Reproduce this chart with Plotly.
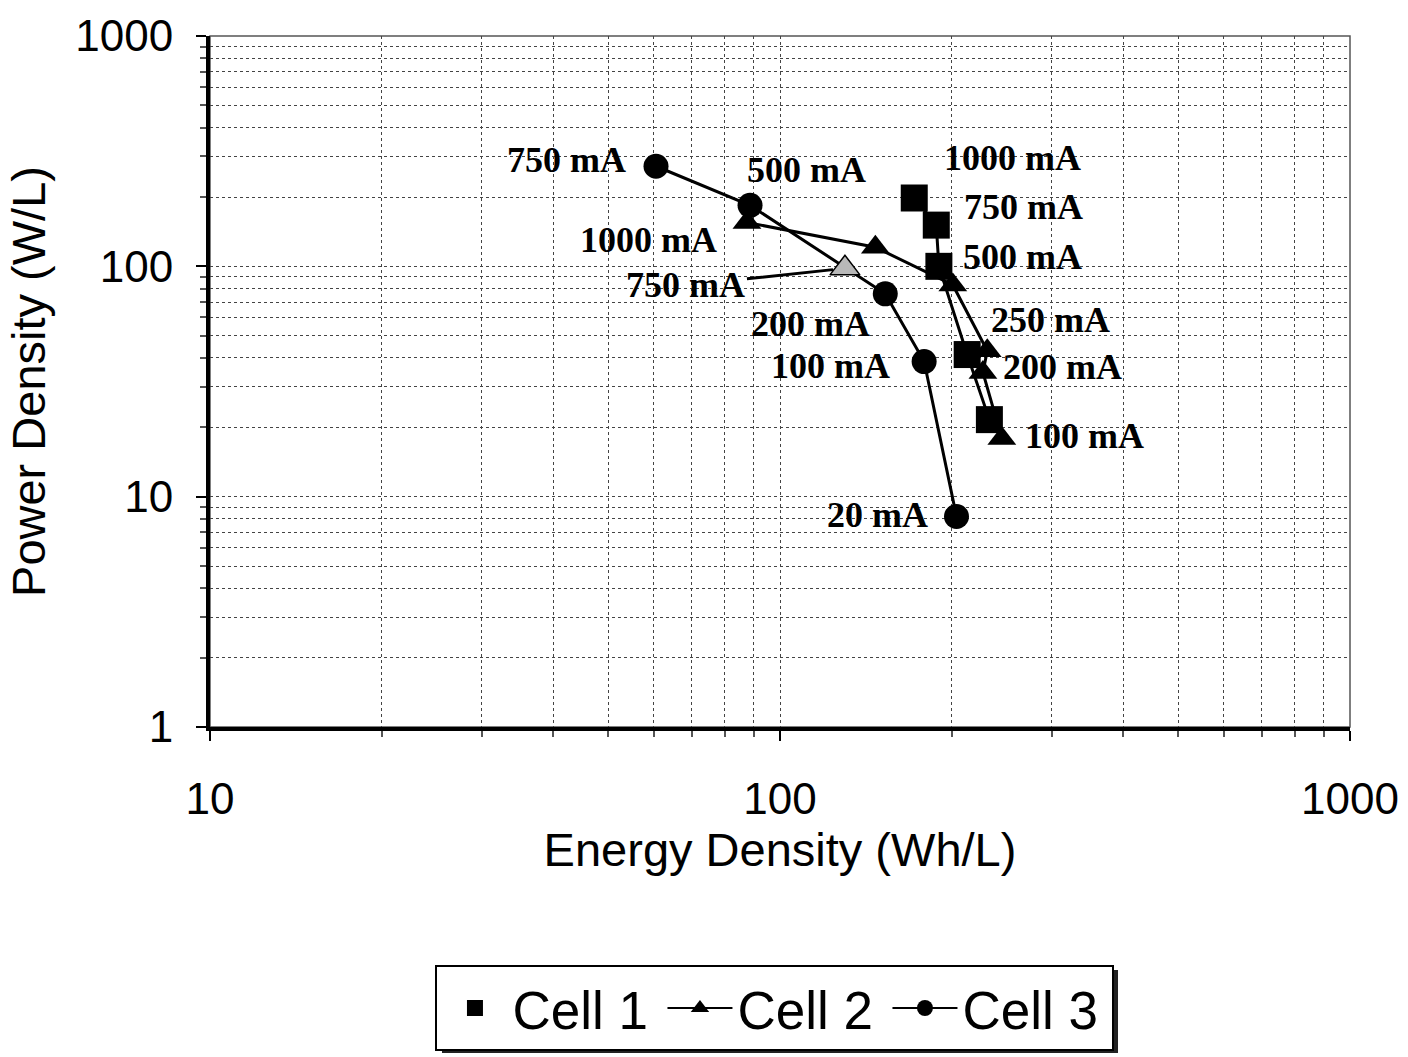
import math
import plotly.graph_objects as go

# Energy density (Wh/L) vs power density (W/L) for three cells
cell1_energy = [172, 188, 190, 213, 233]
cell1_power = [198, 151, 100, 41.4, 21.6]

cell2_energy = [87.5, 147, 201, 231, 227, 245]
cell2_power = [155, 121, 83, 43, 34.6, 17.9]

cell3_energy = [60.6, 88.6, 153, 179, 204]
cell3_power = [272, 184, 76, 38.6, 8.2]

# separately marked 750 mA point
extra_energy = [130]
extra_power = [98]
extra_label = "750 mA"

# discharge current labels per point ("" = unlabelled)
cell1_labels = ["1000 mA", "750 mA", "500 mA", "", ""]
cell2_labels = ["1000 mA", "", "", "250 mA", "200 mA", "100 mA"]
cell3_labels = ["750 mA", "500 mA", "200 mA", "100 mA", "20 mA"]

series_names = ["Cell 1", "Cell 2", "Cell 3"]

# pixel offsets of each label from its point (style only)
label_offsets = {
    "Cell 1": [(98, 40), (87, 18), (84, 9), None, None],
    "Cell 2": [(-98, -18), None, None, (63, 31), (80, 6), (83, 2)],
    "Cell 3": [(-90, 6), (56, 35), (-75, -30), (-94, -4), (-79, 2)],
}

series = {
    "Cell 1": (cell1_energy, cell1_power, cell1_labels, "square", 27),
    "Cell 2": (cell2_energy, cell2_power, cell2_labels, "triangle-up", 25),
    "Cell 3": (cell3_energy, cell3_power, cell3_labels, "circle", 25),
}

LABEL_FONT = dict(family="Liberation Serif", size=36, color="black")
SANS = "Liberation Sans"

fig = go.Figure()

for name in series_names:
    xs, ys, _, sym, size = series[name]
    fig.add_trace(go.Scatter(
        x=xs, y=ys, mode="lines+markers", showlegend=False, name=name,
        line=dict(color="black", width=3),
        marker=dict(symbol=sym, size=size, color="black"),
    ))

fig.add_trace(go.Scatter(
    x=extra_energy, y=extra_power, mode="markers", showlegend=False,
    marker=dict(symbol="triangle-up", size=26, color="#b8b8b8",
                line=dict(color="black", width=1.5)),
))

# legend entries
fig.add_trace(go.Scatter(x=[None], y=[None], mode="markers", name="Cell 1",
                         marker=dict(symbol="square", size=16, color="black")))
fig.add_trace(go.Scatter(x=[None], y=[None], mode="lines+markers", name="Cell 2",
                         line=dict(color="black", width=2),
                         marker=dict(symbol="triangle-up", size=16, color="black")))
fig.add_trace(go.Scatter(x=[None], y=[None], mode="lines+markers", name="Cell 3",
                         line=dict(color="black", width=2),
                         marker=dict(symbol="circle", size=16, color="black")))

annotations = []
for name in series_names:
    xs, ys, labels, _, _ = series[name]
    for i, text in enumerate(labels):
        if not text:
            continue
        dx, dy = label_offsets[name][i]
        annotations.append(dict(
            x=math.log10(xs[i]), y=math.log10(ys[i]), xref="x", yref="y",
            text="<b>%s</b>" % text, showarrow=False,
            xshift=dx, yshift=dy, font=LABEL_FONT,
        ))

annotations.append(dict(
    x=math.log10(extra_energy[0]), y=math.log10(extra_power[0]),
    xref="x", yref="y", text="<b>%s</b>" % extra_label,
    showarrow=True, ax=-159, ay=17, arrowhead=0, arrowwidth=3,
    arrowcolor="black", standoff=12, font=LABEL_FONT,
))

grid = dict(gridcolor="#444", gridwidth=1, griddash="dot")

# drop shadow behind the legend box (paper coordinates)
legend_shadow = dict(type="rect", xref="paper", yref="paper",
                     x0=0.2035, x1=0.7965, y0=-0.4718, y1=-0.3517,
                     line=dict(width=0), fillcolor="#222", layer="below")

fig.update_layout(
    width=1408, height=1057,
    margin=dict(l=210, r=58, t=36, b=330),
    paper_bgcolor="white", plot_bgcolor="white",
    font=dict(family=SANS, color="black"),
    annotations=annotations,
    showlegend=True,
    legend=dict(
        orientation="h", xref="container", yref="container",
        x=0.5504, xanchor="center", y=0.087, yanchor="top",
        bordercolor="black", borderwidth=2, bgcolor="white",
        itemwidth=65, entrywidth=145, entrywidthmode="pixels",
        font=dict(family=SANS, size=53),
    ),
    shapes=[
        dict(type="rect", xref="paper", yref="paper", x0=0, x1=1, y0=0, y1=1,
             line=dict(color="#555", width=1.5), layer="below"),
        legend_shadow,
    ],
)

fig.update_xaxes(
    type="log", range=[1, 3], dtick=1, automargin=False,
    showline=True, linecolor="black", linewidth=4,
    ticks="outside", ticklen=10, tickwidth=2, tickcolor="black",
    tickfont=dict(family=SANS, size=44), ticklabelstandoff=20,
    showgrid=True, **grid,
    minor=dict(dtick="D1", ticks="outside", ticklen=6, tickcolor="#555",
               showgrid=True, gridcolor="#444", gridwidth=1, griddash="dot"),
    title=dict(text="Energy Density (Wh/L)", font=dict(family=SANS, size=47), standoff=12),
    zeroline=False,
)
fig.update_yaxes(
    type="log", range=[0, 3], dtick=1, automargin=False,
    showline=True, linecolor="black", linewidth=4,
    ticks="outside", ticklen=10, tickwidth=2, tickcolor="black",
    tickfont=dict(family=SANS, size=44), ticklabelstandoff=14,
    showgrid=True, **grid,
    minor=dict(dtick="D1", ticks="outside", ticklen=6, tickcolor="#555",
               showgrid=True, gridcolor="#444", gridwidth=1, griddash="dot"),
    title=dict(text="Power Density (W/L)", font=dict(family=SANS, size=47), standoff=16),
    zeroline=False,
)

fig.write_html("out.html")
